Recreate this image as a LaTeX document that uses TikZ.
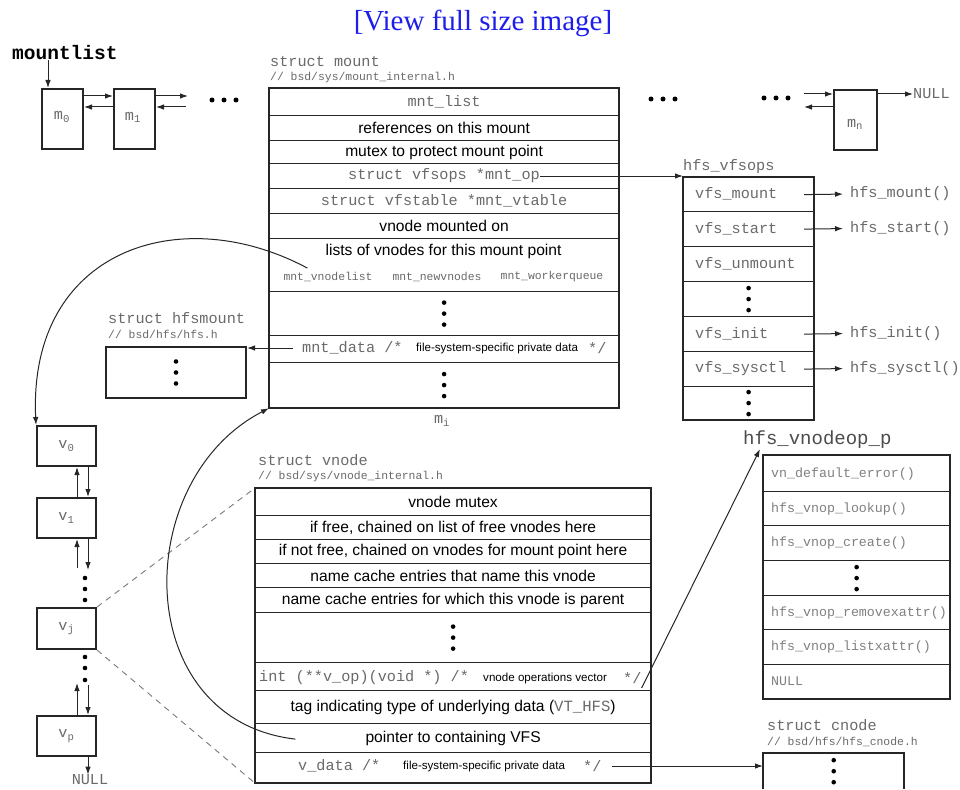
\documentclass[tikz,border=0pt]{standalone}
\usepackage{fontspec}
\setmainfont{Liberation Serif}
\setsansfont{Liberation Sans}
\setmonofont{Liberation Mono}
\usetikzlibrary{arrows.meta,calc}

\definecolor{linec}{HTML}{262626}
\definecolor{codec}{HTML}{6A6A6A}
\definecolor{opc}{HTML}{808080}
\definecolor{linkc}{HTML}{1E1EEB}
\definecolor{dashc}{HTML}{7A7A7A}

\tikzset{
  cell/.style={draw=linec, line width=1.2pt, inner sep=0pt, anchor=north west},
  frame/.style={draw=linec, line width=1.9pt},
  listbox/.style={draw=linec, line width=2pt, inner sep=0pt, anchor=north west,
                  minimum width=41pt, minimum height=60pt},
  chainbox/.style={draw=linec, line width=2pt, inner sep=0pt, anchor=north west,
                   minimum width=59pt, minimum height=40pt},
  code/.style={font=\ttfamily\fontsize{15.2}{15}\selectfont, text=codec, inner sep=0pt},
  smallcode/.style={font=\ttfamily\fontsize{11.4}{12}\selectfont, text=codec, inner sep=0pt},
  opcode/.style={font=\ttfamily\fontsize{13.3}{14}\selectfont, text=opc, inner sep=0pt},
  prose/.style={font=\sffamily\fontsize{15.6}{16}\selectfont, text=black, inner sep=0pt},
  note/.style={font=\sffamily\fontsize{11.6}{12}\selectfont, text=black, inner sep=0pt},
  arr/.style={draw=linec, line width=1pt, -{Latex[length=8pt,width=5.5pt]}},
  link/.style={draw=dashc, line width=0.9pt, dash pattern=on 6pt off 5pt},
}

% three stacked dots centred on a node
\newcommand\celldots[1]{\foreach \dy in {-11,0,11} \fill[black] ($(#1.center)+(0,\dy)$) circle (2.3pt);}
% three dots in a row
\newcommand\rowdots[2]{\foreach \dx in {-12,0,12} \fill[black] (#1+\dx,#2) circle (2.5pt);}

\begin{document}
\begin{tikzpicture}[x=1pt,y=-1pt]
\useasboundingbox[fill=white] (0,0) rectangle (960,789);

\node[font=\fontsize{29}{30}\selectfont, text=linkc] (viewlink) at (483,23) {[View full size image]};

% ---------------- mount list ----------------
\node[font=\ttfamily\bfseries\fontsize{19.5}{20}\selectfont, inner sep=0pt, anchor=west] (mountlist) at (12,53) {mountlist};
\node[listbox] (m0) at (41,88) {};
\node[listbox] (m1) at (113,88) {};
\node[listbox, minimum width=43pt] (mn) at (833,89) {};
\node[code] (m0lab) at (62,117) {m\textsubscript{0}};
\node[code] (m1lab) at (133,117) {m\textsubscript{1}};
\node[code] (mnlab) at (855,124) {m\textsubscript{n}};
\coordinate (m0tip) at ($(m0.north west)+(7,0)$);
\draw[arr] (mountlist.south -| m0tip) -- (m0tip);

\draw[arr] ($(m0.north east)+(0,8)$) -- ($(m1.north west)+(0,8)$);
\draw[arr] ($(m1.north west)+(0,19)$) -- ($(m0.north east)+(0,19)$);
\coordinate (m1out) at (188,96);
\coordinate (m1in) at (186,107);
\draw[arr] ($(m1.north east)+(0,8)$) -- (m1out);
\draw[arr] (m1in) -- ($(m1.north east)+(0,19)$);
\rowdots{224}{100}
\rowdots{663}{99}
\rowdots{776}{98}
\coordinate (mnin) at (804,94);
\coordinate (mnout) at (804,107);
\draw[arr] (mnin) -- ($(mn.north west)+(0,5)$);
\draw[arr] ($(mn.north west)+(0,18)$) -- (mnout);
\node[code, anchor=west] (mnull) at (913,94) {NULL};
\draw[arr] ($(mn.north east)+(0,5)$) -- (mnull.west);

% ---------------- struct mount ----------------
\node[code, anchor=west] (mtitle) at (270,62) {struct mount};
\node[smallcode, anchor=west] (mfile) at (270,78) {// bsd/sys/mount\_internal.h};
\node[cell, code, minimum width=349pt, minimum height=27pt] (mr1) at (269,88) {mnt\_list};
\node[cell, prose, minimum width=349pt, minimum height=25pt] (mr2) at (269,115) {references on this mount};
\node[cell, prose, minimum width=349pt, minimum height=23pt] (mr3) at (269,140) {mutex to protect mount point};
\node[cell, minimum width=349pt, minimum height=25pt] (mr4) at (269,163) {};
\node[cell, code, minimum width=349pt, minimum height=25pt] (mr5) at (269,188) {struct vfstable *mnt\_vtable};
\node[cell, prose, minimum width=349pt, minimum height=25pt] (mr6) at (269,213) {vnode mounted on};
\node[cell, minimum width=349pt, minimum height=53pt] (mr7) at (269,238) {};
\node[cell, minimum width=349pt, minimum height=44pt] (mr8) at (269,291) {};
\node[cell, minimum width=349pt, minimum height=27pt] (mr9) at (269,335) {};
\node[cell, minimum width=349pt, minimum height=45pt] (mr10) at (269,362) {};
\draw[frame] (mr1.north west) rectangle (mr10.south east);

\node[code] (mop) at (444,176) {struct vfsops *mnt\_op};
\node[prose] (lists) at (443.5,251) {lists of vnodes for this mount point};
\node[smallcode] (vl) at (328,277) {mnt\_vnodelist};
\node[smallcode] (nv) at (437,277) {mnt\_newvnodes};
\node[smallcode] (wq) at (552,277) {mnt\_workerqueue};
\celldots{mr8}
\node[code, anchor=west] (md) at (302,348) {mnt\_data /*};
\node[note, anchor=west] (mdnote) at (416,348) {file-system-specific private data};
\node[code, anchor=west] (mdend) at (588,348) {*/};
\celldots{mr10}
\node[code] (milab) at (442,421) {m\textsubscript{i}};

% ---------------- hfs_vfsops ----------------
\node[code, anchor=west] (vftitle) at (683,167) {hfs\_vfsops};
\node[cell, minimum width=130pt, minimum height=34pt] (vf1) at (683,177) {};
\node[cell, minimum width=130pt, minimum height=35pt] (vf2) at (683,211) {};
\node[cell, minimum width=130pt, minimum height=35pt] (vf3) at (683,246) {};
\node[cell, minimum width=130pt, minimum height=35pt] (vf4) at (683,281) {};
\node[cell, minimum width=130pt, minimum height=35pt] (vf5) at (683,316) {};
\node[cell, minimum width=130pt, minimum height=35pt] (vf6) at (683,351) {};
\node[cell, minimum width=130pt, minimum height=33pt] (vf7) at (683,386) {};
\draw[frame] (vf1.north west) rectangle (vf7.south east);
\node[code, anchor=west] (vfm) at (695,194) {vfs\_mount};
\node[code, anchor=west] (vfs) at (695,228.5) {vfs\_start};
\node[code, anchor=west] (vfu) at (695,263.5) {vfs\_unmount};
\celldots{vf4}
\node[code, anchor=west] (vfi) at (695,333.5) {vfs\_init};
\node[code, anchor=west] (vfc) at (695,368.5) {vfs\_sysctl};
\celldots{vf7}
\node[code, anchor=west] (hm) at (850,194) {hfs\_mount()};
\node[code, anchor=west] (hs) at (850,228.5) {hfs\_start()};
\node[code, anchor=west] (hi) at (850,333.5) {hfs\_init()};
\node[code, anchor=west] (hc) at (850,368.5) {hfs\_sysctl()};
\draw[arr, shorten >=7pt] ([xshift=-10pt]vf1.east) -- (hm.west);
\draw[arr, shorten >=7pt] ([xshift=-10pt]vf2.east) -- (hs.west);
\draw[arr, shorten >=7pt] ([xshift=-10pt]vf5.east) -- (hi.west);
\draw[arr, shorten >=7pt] ([xshift=-10pt]vf6.east) -- (hc.west);
\draw[arr] (mop.east) -- (mop.east -| vf1.west);

% ---------------- struct hfsmount ----------------
\node[code, anchor=west] (hmtitle) at (108,318) {struct hfsmount};
\node[smallcode, anchor=west] (hmfile) at (108,334) {// bsd/hfs/hfs.h};
\node[draw=linec, line width=2pt, inner sep=0pt, anchor=north west,
      minimum width=140pt, minimum height=51pt] (hfsm) at (105,346) {};
\celldots{hfsm}
\draw[arr] ([xshift=-9pt]md.west) -- (md.west -| hfsm.east);

% ---------------- vnode chain ----------------
\node[chainbox] (v0) at (36,425) {};
\node[chainbox] (v1) at (36,497) {};
\node[chainbox, minimum height=41pt] (vj) at (36,607) {};
\node[chainbox] (vp) at (36,715) {};
\node[code] at (v0.center) {v\textsubscript{0}};
\node[code] at (v1.center) {v\textsubscript{1}};
\node[code] at (vj.center) {v\textsubscript{j}};
\node[code] at (vp.center) {v\textsubscript{p}};
\draw[arr] ($(v1.north west)+(41,0)$) -- ($(v0.south west)+(41,0)$);
\draw[arr] ($(v0.south west)+(52,0)$) -- ($(v1.north west)+(52,0)$);
\coordinate (v1up) at (77,568);
\coordinate (v1down) at (88,570);
\draw[arr] (v1up) -- ($(v1.south west)+(41,0)$);
\draw[arr] ($(v1.south west)+(52,0)$) -- (v1down);
\foreach \yy in {578,589,600} \fill[black] (85,\yy) circle (2.3pt);
\foreach \yy in {657,668,680} \fill[black] (85,\yy) circle (2.3pt);
\coordinate (vpup) at (77,683);
\coordinate (vpdown) at (88,685);
\draw[arr] ($(vp.north west)+(41,0)$) -- (vpup);
\draw[arr] (vpdown) -- ($(vp.north west)+(52,0)$);
\node[code] (vnull) at (90,780) {NULL};
\draw[arr] ($(vp.south west)+(52,0)$) -- (vnull.north -| v1down);

% ---------------- struct vnode ----------------
\node[code, anchor=west] (vtitle) at (258,460) {struct vnode};
\node[smallcode, anchor=west] (vfile) at (258,477) {// bsd/sys/vnode\_internal.h};
\node[cell, prose, minimum width=395pt, minimum height=27pt] (vn1) at (255,488) {vnode mutex};
\node[cell, prose, minimum width=395pt, minimum height=24pt] (vn2) at (255,515) {if free, chained on list of free vnodes here};
\node[cell, prose, minimum width=395pt, minimum height=24pt] (vn3) at (255,539) {if not free, chained on vnodes for mount point here};
\node[cell, prose, minimum width=395pt, minimum height=24pt] (vn4) at (255,563) {name cache entries that name this vnode};
\node[cell, prose, minimum width=395pt, minimum height=25pt] (vn5) at (255,587) {name cache entries for which this vnode is parent};
\node[cell, minimum width=395pt, minimum height=50pt] (vn6) at (255,612) {};
\node[cell, minimum width=395pt, minimum height=28pt] (vn7) at (255,662) {};
\node[cell, prose, minimum width=395pt, minimum height=33pt] (vn8) at (255,690)
  {tag indicating type of underlying data ({\ttfamily\color{codec}VT\_HFS})};
\node[cell, prose, minimum width=395pt, minimum height=29pt] (vn9) at (255,723) {pointer to containing VFS};
\node[cell, minimum width=395pt, minimum height=30pt] (vn10) at (255,752) {};
\draw[frame] (vn1.north west) rectangle (vn10.south east);
\celldots{vn6}
\node[code, anchor=west] (vop) at (259,678) {int (**v\_op)(void *) /*};
\node[note, anchor=west] (vopnote) at (483,678) {vnode operations vector};
\node[code, anchor=west] (vopend) at (623,678) {*/};
\node[code, anchor=west] (vd) at (298,766) {v\_data  /*};
\node[note, anchor=west] (vdnote) at (403,766) {file-system-specific private data};
\node[code, anchor=west] (vdend) at (583,766) {*/};
\node[prose, opacity=0] (ptr) at (vn9.center) {pointer to containing VFS};

\draw[link] (vj.north east) -- (vn1.north west);
\draw[link] (vj.south east) -- (vn10.south west);

% ---------------- hfs_vnodeop_p ----------------
\node[font=\ttfamily\fontsize{19}{20}\selectfont, text=black!70, inner sep=0pt, anchor=west] (opl) at (743,440) {hfs\_vnodeop\_p};
\node[cell, minimum width=186pt, minimum height=36pt] (op1) at (763,455) {};
\node[cell, minimum width=186pt, minimum height=34pt] (op2) at (763,491) {};
\node[cell, minimum width=186pt, minimum height=35pt] (op3) at (763,525) {};
\node[cell, minimum width=186pt, minimum height=35pt] (op4) at (763,560) {};
\node[cell, minimum width=186pt, minimum height=34pt] (op5) at (763,595) {};
\node[cell, minimum width=186pt, minimum height=35pt] (op6) at (763,629) {};
\node[cell, minimum width=186pt, minimum height=34pt] (op7) at (763,664) {};
\draw[frame] (op1.north west) rectangle (op7.south east);
\node[opcode, anchor=west] at ($(op1.west)+(8,0)$) {vn\_default\_error()};
\node[opcode, anchor=west] at ($(op2.west)+(8,0)$) {hfs\_vnop\_lookup()};
\node[opcode, anchor=west] at ($(op3.west)+(8,0)$) {hfs\_vnop\_create()};
\celldots{op4}
\node[opcode, anchor=west] at ($(op5.west)+(8,0)$) {hfs\_vnop\_removexattr()};
\node[opcode, anchor=west] at ($(op6.west)+(8,0)$) {hfs\_vnop\_listxattr()};
\node[opcode, anchor=west] at ($(op7.west)+(8,0)$) {NULL};

% ---------------- struct cnode ----------------
\node[code, anchor=west] (ctitle) at (767,725) {struct cnode};
\node[smallcode, anchor=west] (cfile) at (767,742) {// bsd/hfs/hfs\_cnode.h};
\node[inner sep=0pt, anchor=north west, minimum width=141pt, minimum height=36pt] (cn) at (763,753) {};
\draw[frame] (cn.south west) -- (cn.north west) -- (cn.north east) -- (cn.south east);
\celldots{cn}

% ---------------- pointers ----------------
\coordinate (vlstart) at ($(vl.north west)+(24,-4)$);
\draw[arr] (vlstart) .. controls (180,200) and (28,250) .. (v0.north west);
\coordinate (ptrtail) at ($(ptr.west)+(-70,1)$);
\draw[arr] (ptrtail) .. controls (130,720) and (130,480) .. (mr10.south west);
\coordinate (opltip) at ($(opl.south west)+(17,0)$);
\draw[arr] ($(vopend.east)+(0,10)$) -- (opltip);
\draw[arr] ([xshift=10pt]vdend.east) -- (vdend.east -| cn.west);

\end{tikzpicture}
\end{document}
